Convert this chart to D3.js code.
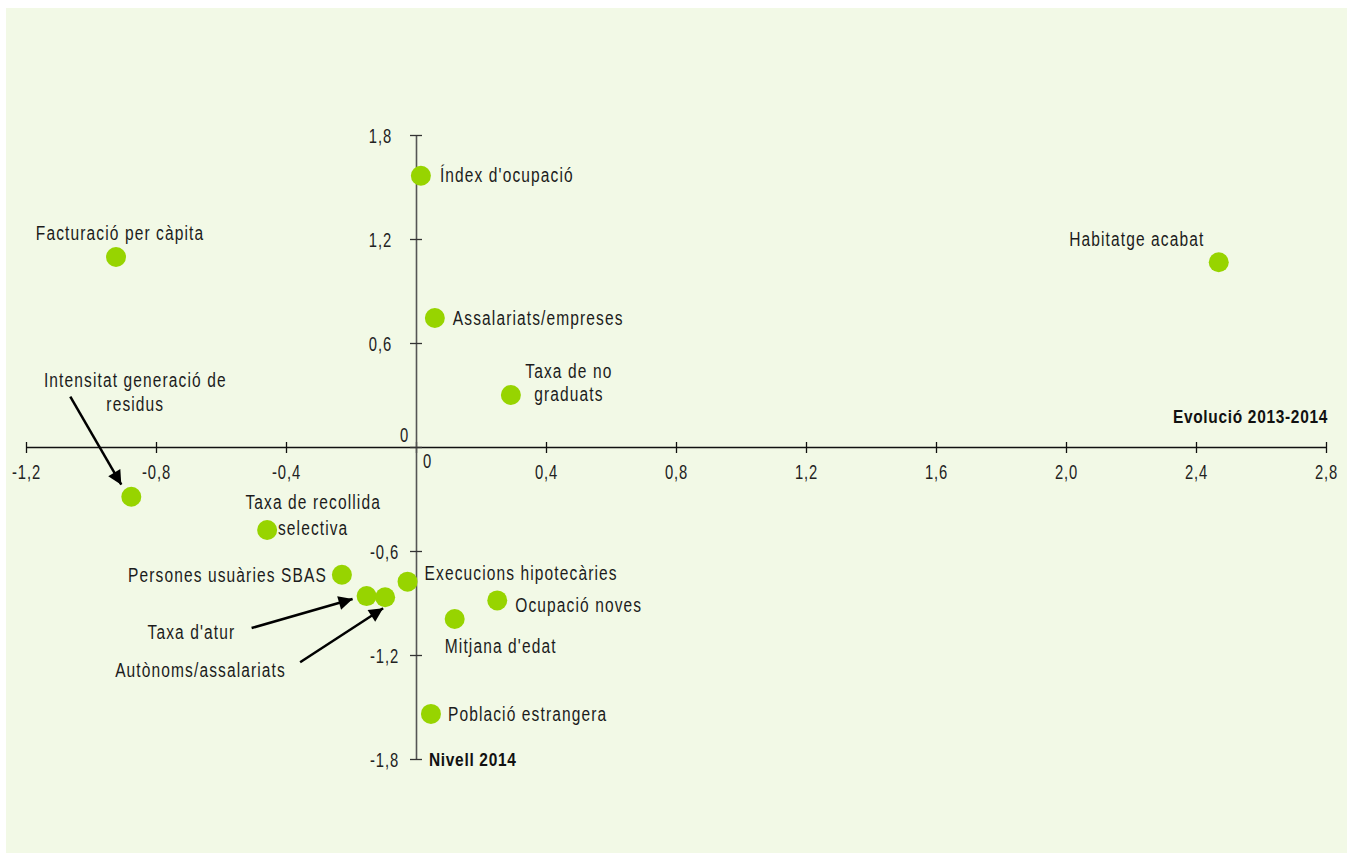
<!DOCTYPE html>
<html>
<head>
<meta charset="utf-8">
<script src="https://cdn.jsdelivr.net/npm/d3@7"></script>
<style>
  html, body { margin: 0; padding: 0; background: #ffffff; }
  svg text { font-family: "Liberation Sans", Arial, sans-serif; }
</style>
</head>
<body>
<svg id="chart" width="1354" height="853"></svg>
<script>
// ---- data ----
const names = [
  "Índex d'ocupació", "Facturació per càpita", "Habitatge acabat", "Assalariats/empreses",
  "Taxa de no|graduats", "Intensitat generació de|residus", "Taxa de recollida|selectiva",
  "Persones usuàries SBAS", "Taxa d'atur", "Autònoms/assalariats", "Execucions hipotecàries",
  "Ocupació noves", "Mitjana d'edat", "Població estrangera"
];
const evolucio = [0.015, -0.923, 2.47, 0.058, 0.292, -0.876, -0.458, -0.228, -0.152, -0.095, -0.026, 0.25, 0.119, 0.046];
const nivell   = [1.565, 1.096, 1.066, 0.744, 0.30, -0.287, -0.479, -0.737, -0.86, -0.867, -0.777, -0.885, -0.992, -1.54];
const xTicks = [-1.2, -0.8, -0.4, 0, 0.4, 0.8, 1.2, 1.6, 2.0, 2.4, 2.8];
const xTickLabels = ["-1,2", "-0,8", "-0,4", "", "0,4", "0,8", "1,2", "1,6", "2,0", "2,4", "2,8"];
const yTicks = [-1.8, -1.2, -0.6, 0, 0.6, 1.2, 1.8];
const yTickLabels = ["-1,8", "-1,2", "-0,6", "", "0,6", "1,2", "1,8"];
const xTitle = "Evolució 2013-2014";
const yTitle = "Nivell 2014";

// ---- label layout (offsets from each point, px) ----
const labelLayout = [
  {anchor: "start",  dx: 19,   dy: -1},
  {anchor: "middle", dx: 4,    dy: -24},
  {anchor: "middle", dx: -82,  dy: -24},
  {anchor: "start",  dx: 18,   dy: 0},
  {anchor: "middle", dx: 58,   dy: -24, lh: 23},
  {anchor: "middle", dx: 4,    dy: -117, lh: 24},
  {anchor: "middle", dx: 46,   dy: -28, lh: 26},
  {anchor: "end",    dx: -15,  dy: 0},
  {anchor: "start",  dx: -219, dy: 36},
  {anchor: "start",  dx: -270, dy: 72},
  {anchor: "start",  dx: 17,   dy: -9},
  {anchor: "start",  dx: 18,   dy: 4},
  {anchor: "middle", dx: 46,   dy: 27},
  {anchor: "start",  dx: 17,   dy: 0}
];
const arrows = [
  {i: 5, sx: -61,  sy: -100, ex: -10, ey: -12},
  {i: 8, sx: -115, sy: 32,   ex: -14, ey: 3},
  {i: 9, sx: -85,  sy: 65,   ex: -2,  ey: 11}
];

const SX = 0.74;      // horizontal compression to mimic condensed face
const LFS = 21;       // label font size
const TFS = 20;       // tick font size

const svg = d3.select("#chart");
svg.append("rect").attr("x", 6).attr("y", 8).attr("width", 1341).attr("height", 845).attr("fill", "#f2f9e6");

const x = d3.scaleLinear().domain([-1.2, 2.8]).range([26, 1326]);
const y = d3.scaleLinear().domain([-1.8, 1.8]).range([759, 135]);

function condText(parent, px, py, str, o) {
  const g = parent.append("g").attr("transform", `translate(${px},${py}) scale(${o.sx || SX},1)`);
  return g.append("text").attr("x", 0).attr("y", 0)
    .attr("text-anchor", o.anchor || "start").attr("dy", o.dy || null)
    .attr("font-size", o.fs || LFS).attr("font-weight", o.fw || null)
    .attr("letter-spacing", o.ls != null ? o.ls : 1.5).attr("fill", o.fill || "#1c1c1c").text(str);
}

// x axis
const xAxis = svg.append("g").attr("transform", `translate(0,${y(0)})`)
  .call(d3.axisBottom(x).tickValues(xTicks).tickSize(0).tickPadding(0)
    .tickFormat((d, i) => xTickLabels[i]));
xAxis.select(".domain").attr("stroke", "#111").attr("stroke-width", 1.3);
xAxis.selectAll(".tick line").remove();
xAxis.selectAll(".tick").append("line").attr("y1", -5).attr("y2", 6).attr("stroke", "#111").attr("stroke-width", 1.3);
xAxis.selectAll(".tick text").attr("x", 0).attr("y", 0).attr("dy", null)
  .attr("transform", `translate(0,32) scale(${SX},1)`)
  .attr("font-size", TFS).attr("fill", "#222").attr("font-family", null).attr("letter-spacing", 1.2);

// y axis
const yAxis = svg.append("g").attr("transform", `translate(${x(0)},0)`)
  .call(d3.axisLeft(y).tickValues(yTicks).tickSize(0).tickPadding(0)
    .tickFormat((d, i) => yTickLabels[i]));
yAxis.select(".domain").attr("stroke", "#555").attr("stroke-width", 1.6);
yAxis.selectAll(".tick line").remove();
yAxis.selectAll(".tick").append("line").attr("x1", -6).attr("x2", 6).attr("stroke", "#333").attr("stroke-width", 1.3);
yAxis.selectAll(".tick text").attr("x", 0).attr("dy", "0.35em")
  .attr("transform", d => `translate(${d < 0 ? -17 : -24},0) scale(${SX},1)`)
  .attr("font-size", TFS).attr("fill", "#222").attr("font-family", null).attr("letter-spacing", 1.2);

// zero labels
condText(svg, x(0) + 11, y(0) + 21, "0", {anchor: "middle", fs: TFS, ls: 0, fill: "#222"});
condText(svg, x(0) - 12, y(0) - 5, "0", {anchor: "middle", fs: TFS, ls: 0, fill: "#222"});

// axis titles
condText(svg, x(2.8) + 2, y(0) - 24, xTitle, {anchor: "end", fs: 18, fw: "bold", ls: 0.8, sx: 0.86, fill: "#111"});
condText(svg, x(0) + 13, y(-1.8) + 7, yTitle, {anchor: "start", fs: 18, fw: "bold", ls: 0.8, sx: 0.86, fill: "#111"});

// arrows
const defs = svg.append("defs");
defs.append("marker").attr("id", "ah").attr("viewBox", "0 0 10 10").attr("refX", 10).attr("refY", 5)
  .attr("markerWidth", 16).attr("markerHeight", 14).attr("markerUnits", "userSpaceOnUse").attr("orient", "auto")
  .append("path").attr("d", "M0,0 L10,5 L0,10 Z").attr("fill", "#000");
svg.append("g").selectAll("line").data(arrows).join("line")
  .attr("x1", a => x(evolucio[a.i]) + a.sx).attr("y1", a => y(nivell[a.i]) + a.sy)
  .attr("x2", a => x(evolucio[a.i]) + a.ex).attr("y2", a => y(nivell[a.i]) + a.ey)
  .attr("stroke", "#000").attr("stroke-width", 2.5).attr("marker-end", "url(#ah)");

// points
const idx = d3.range(names.length);
svg.append("g").selectAll("circle").data(idx).join("circle")
  .attr("cx", i => x(evolucio[i])).attr("cy", i => y(nivell[i])).attr("r", 10)
  .attr("fill", "#97d400");

// labels
const lg = svg.append("g");
idx.forEach(i => {
  const L = labelLayout[i];
  names[i].split("|").forEach((ln, k) => {
    condText(lg, x(evolucio[i]) + L.dx, y(nivell[i]) + L.dy + k * (L.lh || 21), ln,
      {anchor: L.anchor, dy: "0.35em"});
  });
});
</script>
</body>
</html>
